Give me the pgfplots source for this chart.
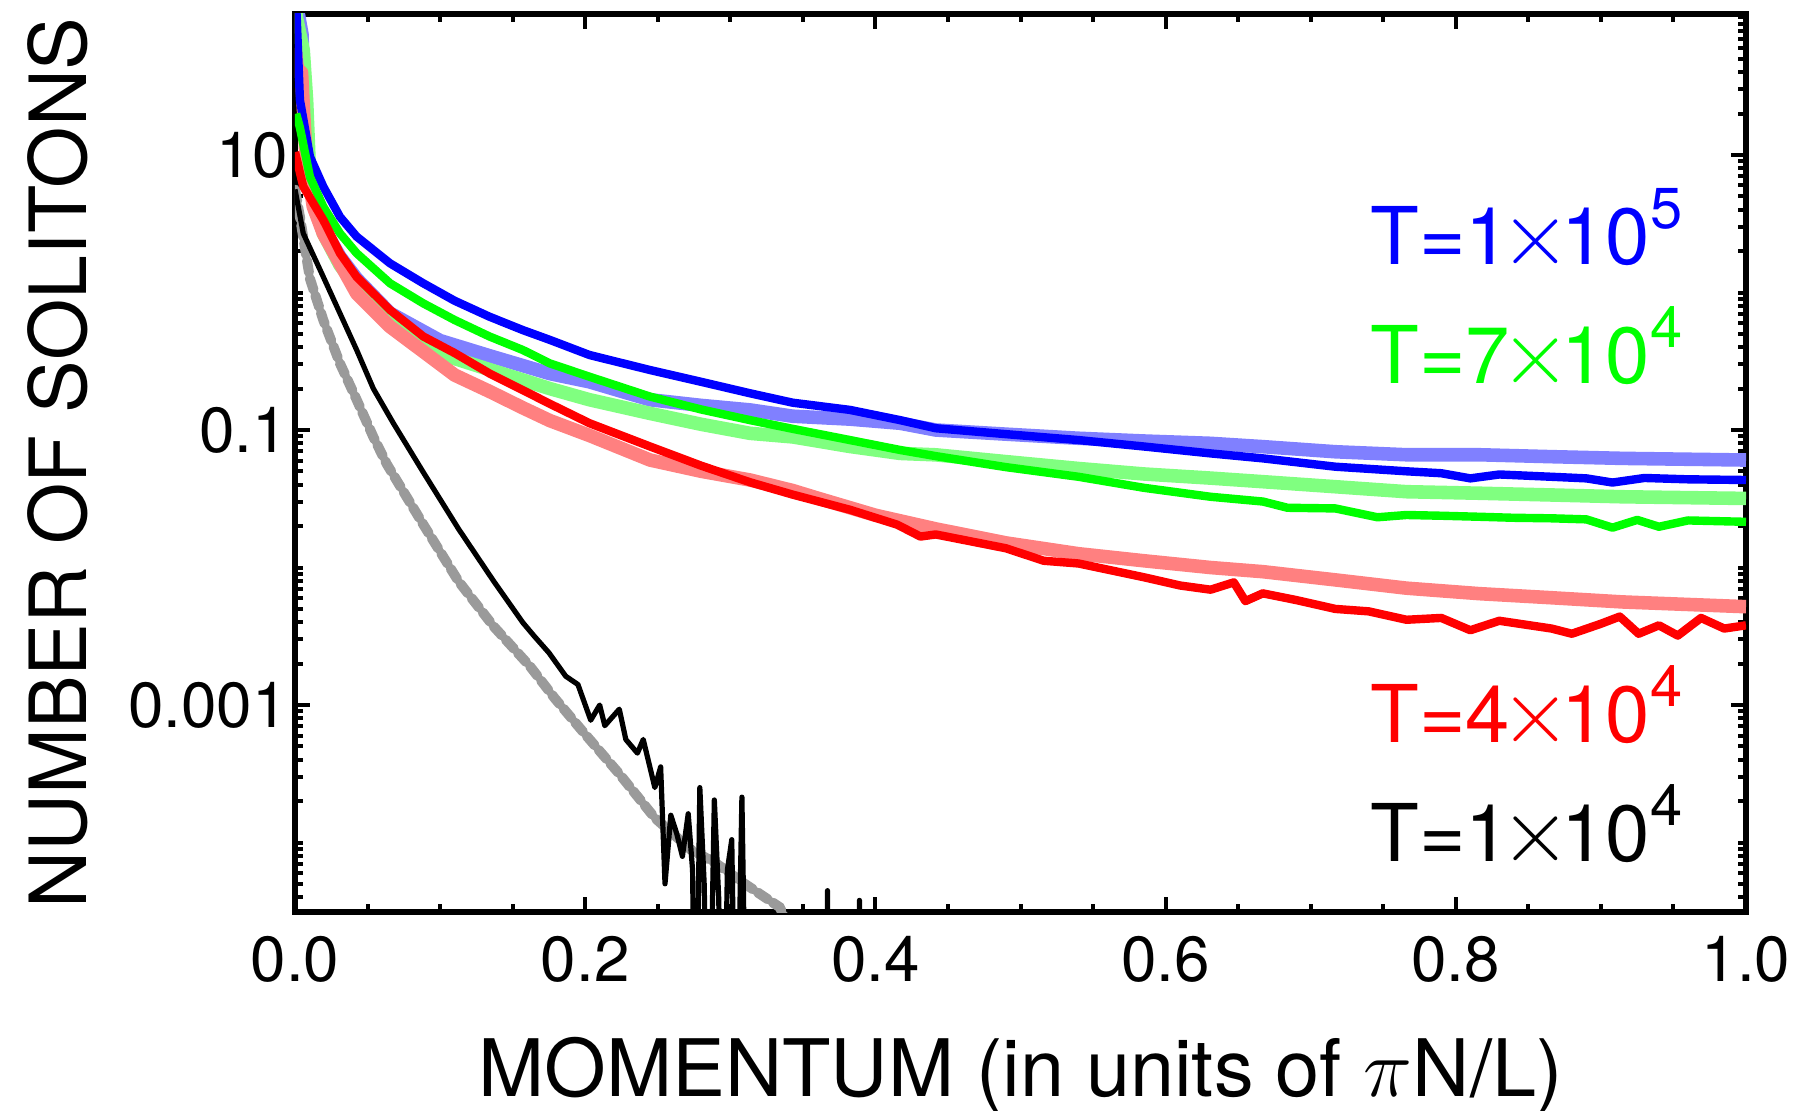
\documentclass[border=0pt]{standalone}
\usepackage{fontspec}
\setmainfont{TeX Gyre Heros}
\usepackage{graphicx}
\usepackage{pgfplots}
\pgfplotsset{compat=1.18}
\definecolor{cBlue}{HTML}{0000FF}
\definecolor{cGreen}{HTML}{00FF00}
\definecolor{cRed}{HTML}{FF0000}
\definecolor{lBlue}{HTML}{8080FF}
\definecolor{lGreen}{HTML}{80FF80}
\definecolor{lRed}{HTML}{FF8080}
\definecolor{cGray}{HTML}{9A9A9A}
\newcommand{\tms}{\kern-2.4bp\scalebox{1.1}{${\times}$}\kern-2.4bp}
\begin{document}
\begin{tikzpicture}
\useasboundingbox (-73.75bp,-49.75bp) rectangle (376bp,228bp);
\begin{axis}[
  at={(0,0)}, anchor=south west,
  scale only axis, width=362.75bp, height=224.5bp,
  xmin=0, xmax=1, ymode=log, ymin=3.126e-5, ymax=106,
  xtick={0,0.2,0.4,0.6,0.8,1}, xticklabels={0.0,0.2,0.4,0.6,0.8,1.0},
  minor x tick num=3,
  ytick={1e-3,1e-1,1e1}, yticklabels={0.001,0.1,10},
  minor ytick={4e-5,5e-5,6e-5,7e-5,8e-5,9e-5,1e-4,2e-4,3e-4,4e-4,5e-4,6e-4,7e-4,8e-4,9e-4,2e-3,3e-3,4e-3,5e-3,6e-3,7e-3,8e-3,9e-3,1e-2,2e-2,3e-2,4e-2,5e-2,6e-2,7e-2,8e-2,9e-2,2e-1,3e-1,4e-1,5e-1,6e-1,7e-1,8e-1,9e-1,1,2,3,4,5,6,7,8,9,20,30,40,50,60,70,80,90,100},
  tick align=inside, xtick pos=both, ytick pos=both,
  xticklabel pos=lower, yticklabel pos=left,
  major tick length=3.75bp, minor tick length=2bp,
  axis line style={line width=1.4bp},
  tick style={line width=1bp, black},
  ticklabel style={font=\fontsize{16}{16}\selectfont},
  xticklabel style={yshift=-2.5bp},
  yticklabel style={xshift=1.7bp},
  /pgf/number format/assume math mode=true,
  xlabel={MOMENTUM (in units of $\pi$N/L)},
  ylabel={NUMBER OF SOLITONS},
  xlabel style={at={(axis description cs:0.5,-0.2049)}, anchor=base, font=\fontsize{19.9}{19.9}\selectfont},
  ylabel style={at={(axis description cs:-0.144,0.5)}, anchor=base, font=\fontsize{19.8}{19.8}\selectfont},
  clip=true,
]
% light (theory) bands
\addplot[lBlue, line width=3.4bp, line join=round] coordinates {
(0,150) (0.001,126) (0.0048,75.9) (0.006,33.1) (0.0071,19.05) (0.0103,5.62) (0.0195,2.95) (0.031,1.82) (0.0425,1.26) (0.0655,0.708) (0.1,0.447) (0.134,0.347) (0.1757,0.257) (0.203,0.224) (0.2447,0.166) (0.28,0.151) (0.3136,0.14) (0.343,0.126) (0.3825,0.12) (0.417,0.112) (0.4416,0.1) (0.49,0.0933) (0.54,0.0871) (0.585,0.0832) (0.631,0.080) (0.667,0.0757) (0.717,0.0695) (0.766,0.0661) (0.816,0.0661) (0.866,0.064) (0.915,0.0622) (1.0,0.0605)
};
\addplot[lGreen, line width=3.4bp, line join=round] coordinates {
(0,150) (0.001,100) (0.0057,57.5) (0.008,25.1) (0.0103,6.31) (0.0195,2.69) (0.031,1.585) (0.0425,1.096) (0.0655,0.646) (0.0884,0.447) (0.107,0.339) (0.134,0.275) (0.157,0.231) (0.1757,0.2) (0.203,0.166) (0.2447,0.132) (0.28,0.110) (0.3136,0.0946) (0.343,0.0891) (0.3825,0.0759) (0.417,0.0676) (0.4416,0.066) (0.49,0.0589) (0.54,0.0525) (0.585,0.0479) (0.631,0.0447) (0.667,0.0421) (0.717,0.0387) (0.766,0.0356) (0.816,0.0347) (0.866,0.0337) (0.915,0.0327) (1.0,0.0318)
};
\addplot[lRed, line width=3.4bp, line join=round] coordinates {
(0,60) (0.0017,42) (0.0045,39.8) (0.0075,10) (0.0126,4.21) (0.0195,2.69) (0.0425,0.986) (0.0655,0.564) (0.0884,0.372) (0.11,0.251) (0.134,0.191) (0.157,0.145) (0.1757,0.117) (0.203,0.0912) (0.2447,0.0605) (0.28,0.0501) (0.3136,0.0433) (0.343,0.0363) (0.36,0.0320) (0.4,0.024) (0.4416,0.0191) (0.49,0.0151) (0.54,0.0126) (0.585,0.0112) (0.631,0.010) (0.667,0.00933) (0.717,0.00813) (0.766,0.00708) (0.816,0.00646) (0.866,0.00603) (0.915,0.00562) (1.0,0.00519)
};
\addplot[cGray, line width=2.5bp, line cap=round, dash pattern=on 3bp off 1.5bp] coordinates {
(0,5.6) (0.0034,3.55) (0.0103,1.26) (0.0195,0.631) (0.031,0.305) (0.0425,0.166) (0.054,0.0891) (0.0634,0.0562) (0.088,0.0209) (0.1127,0.00794) (0.137,0.00372) (0.162,0.00191) (0.179,0.00112) (0.199,6.3e-4) (0.2235,3.16e-4) (0.248,1.51e-4) (0.2727,8.9e-5) (0.29,7.08e-5) (0.31,5.01e-5) (0.334,3.39e-5) (0.345,2e-5)
};
% simulation (noisy) lines
\addplot[cBlue, line width=2.1bp, line join=round] coordinates {
(0.0008,126) (0.0034,25.1) (0.0103,9.72) (0.0195,5.89) (0.031,3.55) (0.0425,2.55) (0.0655,1.63) (0.0884,1.167) (0.11,0.871) (0.134,0.667) (0.157,0.533) (0.1757,0.452) (0.203,0.351) (0.2447,0.273) (0.28,0.224) (0.3136,0.185) (0.343,0.158) (0.3825,0.140) (0.417,0.118) (0.4416,0.103) (0.49,0.0933) (0.54,0.0845) (0.585,0.0759) (0.631,0.0676) (0.667,0.0622) (0.717,0.0541) (0.766,0.0501) (0.79,0.0485) (0.81,0.0445) (0.83,0.0475) (0.866,0.0457) (0.89,0.0445) (0.908,0.0415) (0.93,0.0448) (0.96,0.0438) (1.0,0.0433)
};
\addplot[cGreen, line width=2.1bp, line join=round] coordinates {
(0.0008,20) (0.0034,15.8) (0.0103,6.92) (0.0195,4.21) (0.031,2.69) (0.0425,1.93) (0.0655,1.167) (0.0884,0.834) (0.11,0.631) (0.134,0.479) (0.157,0.382) (0.1757,0.305) (0.203,0.244) (0.2447,0.175) (0.28,0.141) (0.3136,0.118) (0.343,0.102) (0.3825,0.0845) (0.417,0.0716) (0.4416,0.0646) (0.49,0.0537) (0.54,0.0457) (0.585,0.038) (0.631,0.0327) (0.667,0.0302) (0.684,0.0272) (0.717,0.0269) (0.746,0.0232) (0.766,0.0241) (0.79,0.0238) (0.816,0.0234) (0.84,0.0230) (0.866,0.0228) (0.89,0.0224) (0.908,0.0195) (0.925,0.0222) (0.94,0.0198) (0.96,0.0220) (1.0,0.0215)
};
\addplot[cRed, line width=2.1bp, line join=round] coordinates {
(0,10.5) (0.0057,5.89) (0.0195,3.37) (0.031,1.93) (0.0425,1.30) (0.0655,0.746) (0.0884,0.479) (0.11,0.363) (0.134,0.258) (0.157,0.195) (0.1757,0.155) (0.203,0.112) (0.2447,0.0759) (0.28,0.055) (0.3136,0.0417) (0.343,0.0339) (0.3825,0.0263) (0.415,0.0205) (0.431,0.0168) (0.4416,0.0174) (0.49,0.0138) (0.516,0.0112) (0.54,0.0107) (0.585,0.0085) (0.61,0.0074) (0.631,0.0069) (0.647,0.0078) (0.655,0.0057) (0.667,0.00649) (0.69,0.0058) (0.717,0.0050) (0.74,0.0048) (0.766,0.00417) (0.79,0.0043) (0.81,0.0035) (0.83,0.0041) (0.866,0.0036) (0.88,0.0033) (0.9,0.0039) (0.913,0.0044) (0.926,0.0033) (0.94,0.0038) (0.953,0.0032) (0.969,0.0043) (0.985,0.0036) (1.0,0.0038)
};
\addplot[black, line width=1.3bp, line join=round] coordinates {
(0,5.62) (0.0057,2.69) (0.0195,1.30) (0.031,0.705) (0.0425,0.382) (0.054,0.2) (0.0678,0.112) (0.088,0.0501) (0.1127,0.0191) (0.137,0.00794) (0.157,0.00398) (0.165,0.00316) (0.175,0.0024) (0.1866,0.00162) (0.195,0.00141) (0.2038,7.76e-4) (0.21,1e-3) (0.2135,7.08e-4) (0.2235,9.33e-4) (0.228,5.62e-4) (0.236,4.47e-4) (0.24,5.62e-4) (0.248,2.51e-4) (0.252,3.55e-4) (0.255,5.01e-5) (0.259,1.58e-4) (0.263,1.17e-4) (0.267,7.94e-5) (0.271,1.62e-4) (0.274,6.31e-5) (0.276,1e-6) (0.279,2.51e-4) (0.282,5.01e-5) (0.285,1e-6) (0.289,2.04e-4) (0.292,3.98e-5) (0.295,1e-6) (0.298,6.31e-5) (0.301,1.05e-4) (0.304,1e-6) (0.308,2.14e-4) (0.3115,1e-6) (0.366,1e-6) (0.367,4.47e-5) (0.368,1e-6) (0.388,1e-6) (0.389,3.8e-5) (0.390,1e-6)
};
\node[anchor=base east, inner sep=0pt, text=cBlue, font=\fontsize{20}{20}\selectfont] at (rel axis cs:0.9566,0.7205) {T=1\tms10\raisebox{9bp}{\fontsize{14.5}{14.5}\selectfont 5}};
\node[anchor=base east, inner sep=0pt, text=cGreen, font=\fontsize{20}{20}\selectfont] at (rel axis cs:0.9566,0.589) {T=7\tms10\raisebox{9bp}{\fontsize{14.5}{14.5}\selectfont 4}};
\node[anchor=base east, inner sep=0pt, text=cRed, font=\fontsize{20}{20}\selectfont] at (rel axis cs:0.9566,0.1893) {T=4\tms10\raisebox{9bp}{\fontsize{14.5}{14.5}\selectfont 4}};
\node[anchor=base east, inner sep=0pt, text=black, font=\fontsize{20}{20}\selectfont] at (rel axis cs:0.9566,0.0557) {T=1\tms10\raisebox{9bp}{\fontsize{14.5}{14.5}\selectfont 4}};
\end{axis}
\end{tikzpicture}
\end{document}
